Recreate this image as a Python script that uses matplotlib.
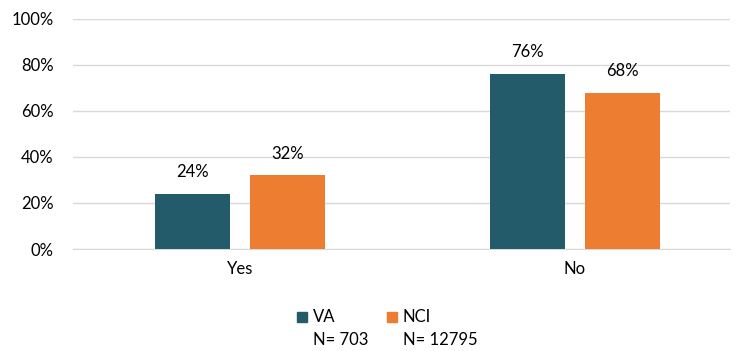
import matplotlib.pyplot as plt
from matplotlib.patches import Rectangle

plt.rcParams['font.family'] = ['Lato', 'DejaVu Sans']

categories = ['Yes', 'No']
va_values = [24, 76]
nci_values = [32, 68]
series_names = ['VA', 'NCI']
series_n = ['N= 703', 'N= 12795']
yticks = [0, 20, 40, 60, 80, 100]

va_color = '#245B6B'
nci_color = '#ED7D31'

fig = plt.figure(figsize=(7.36, 3.51), dpi=100)
ax = fig.add_axes([73 / 736, 102 / 351, 657 / 736, 230 / 351])

x = list(range(len(categories)))
w = 0.224
off = 0.142
b1 = ax.bar([i - off for i in x], va_values, w, color=va_color, zorder=3)
b2 = ax.bar([i + off for i in x], nci_values, w, color=nci_color, zorder=3)

for bars, vals in [(b1, va_values), (b2, nci_values)]:
    for rect, v in zip(bars, vals):
        ax.annotate(f'{v}%', (rect.get_x() + rect.get_width() / 2, v),
                    xytext=(0, 10), textcoords='offset points',
                    ha='center', va='bottom', fontsize=12, color='#000000')

ax.set_xlim(-0.4985, 1.4627)
ax.set_ylim(0, 100)
ax.set_yticks(yticks)
ax.set_yticklabels([f'{t}%' for t in yticks], fontsize=12)
ax.set_xticks(x)
ax.set_xticklabels(categories, fontsize=12)
ax.tick_params(axis='y', length=0, pad=14)
ax.tick_params(axis='x', length=0, pad=9)
ax.grid(axis='y', color='#D9D9D9', linewidth=1, zorder=0)
for s in ['top', 'right', 'left']:
    ax.spines[s].set_visible(False)
ax.spines['bottom'].set_color('#D9D9D9')

# legend drawn by hand: square + name, N below
leg_x = [297, 387]
for lx, name, n, col in zip(leg_x, series_names, series_n, [va_color, nci_color]):
    fig.patches.append(Rectangle((lx / 736, (351 - 322) / 351), 10 / 736, 10 / 351,
                                 transform=fig.transFigure, color=col))
    fig.text((lx + 16) / 736, (351 - 317) / 351, name, fontsize=12, va='center')
    fig.text((lx + 16) / 736, (351 - 340) / 351, n, fontsize=12, va='center')

fig.savefig('out.png', dpi=100)
